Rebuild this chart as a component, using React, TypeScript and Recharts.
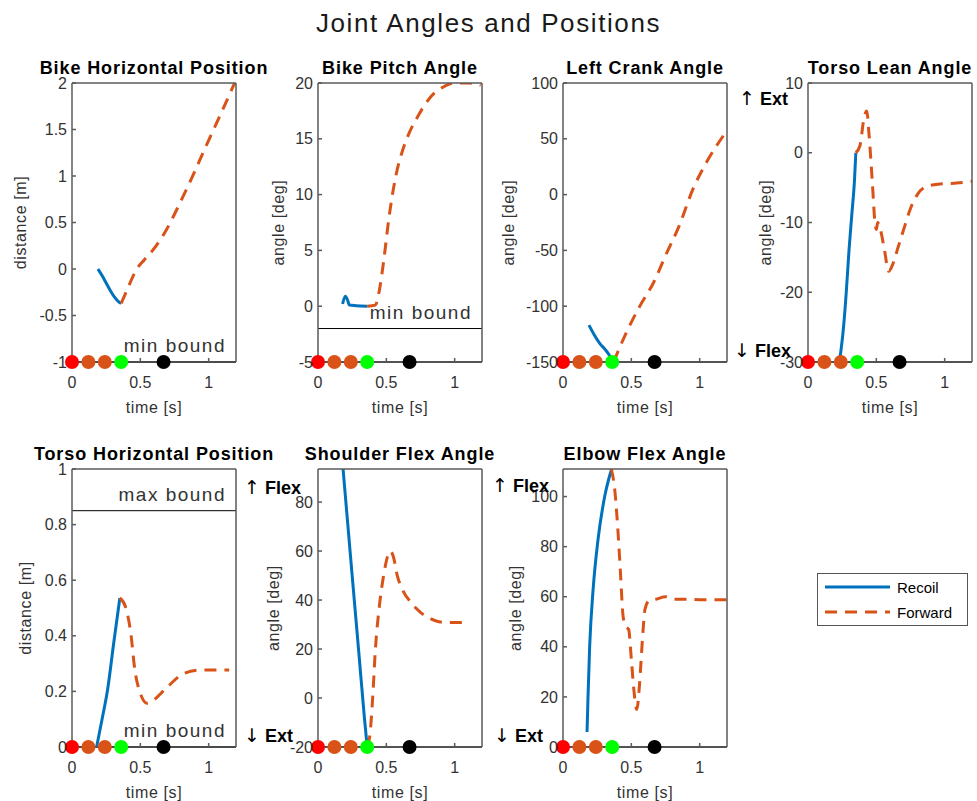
import { ComposedChart, Line, Scatter, XAxis, YAxis, ReferenceLine } from 'recharts';

// colours used by MATLAB's default order
const BLUE = '#0072BD';
const ORANGE = '#D95319';
const INK = '#333333';
const FONT = '"Liberation Sans", Arial, Helvetica, sans-serif';

const TIME_DOMAIN: [number, number] = [0, 1.2];
const TIME_TICKS = [0, 0.5, 1];

// phase markers along the bottom of every panel
const EVENT_TIMES = [0, 0.12, 0.24, 0.36, 0.67];
const EVENT_COLORS = ['#FF0000', ORANGE, ORANGE, '#00FF00', '#000000'];

const SERIES_NAMES = ['Recoil', 'Forward'];

// [time s, value]
const bikeXRecoil: [number, number][] = [
  [0.19, 0.0], [0.22, -0.07], [0.25, -0.15], [0.28, -0.23], [0.31, -0.3], [0.34, -0.35], [0.36, -0.37],
];
const bikeXForward: [number, number][] = [
  [0.36, -0.37], [0.41, -0.2], [0.47, -0.01], [0.53, 0.1], [0.59, 0.2], [0.69, 0.42], [0.79, 0.71],
  [0.88, 0.99], [0.98, 1.32], [1.08, 1.64], [1.19, 2.0],
];

const pitchRecoil: [number, number][] = [
  [0.18, 0.2], [0.2, 0.9], [0.215, 0.6], [0.23, 0.1], [0.28, 0.05], [0.36, 0],
];
const pitchForward: [number, number][] = [
  [0.36, 0], [0.42, 0.1], [0.45, 1.5], [0.48, 4], [0.52, 8], [0.57, 11.7], [0.62, 14], [0.67, 15.6],
  [0.73, 17], [0.79, 18.2], [0.85, 19.1], [0.91, 19.6], [1.0, 20], [1.1, 20], [1.19, 19.8],
];

const crankRecoil: [number, number][] = [
  [0.19, -117], [0.23, -126], [0.27, -133.5], [0.31, -139], [0.34, -144], [0.37, -150],
];
const crankForward: [number, number][] = [
  [0.37, -150], [0.46, -124.5], [0.56, -100.4], [0.66, -79.4], [0.76, -52], [0.85, -28],
  [0.95, 4.7], [1.05, 29], [1.18, 54],
];

const leanRecoil: [number, number][] = [
  [0.23, -30], [0.26, -25], [0.28, -20], [0.3, -14], [0.32, -9], [0.34, -4], [0.35, 0],
];
const leanForward: [number, number][] = [
  [0.35, 0], [0.38, 1], [0.41, 5], [0.43, 6], [0.445, 3], [0.47, -4], [0.49, -10], [0.5, -11],
  [0.51, -10], [0.53, -11], [0.56, -14], [0.59, -17], [0.62, -16], [0.66, -13.5], [0.7, -11],
  [0.75, -8], [0.8, -6], [0.85, -5], [0.95, -4.5], [1.05, -4.4], [1.2, -4.1],
];

const torsoXRecoil: [number, number][] = [
  [0.18, 0], [0.22, 0.1], [0.26, 0.205], [0.305, 0.373], [0.35, 0.536],
];
const torsoXForward: [number, number][] = [
  [0.35, 0.536], [0.39, 0.506], [0.43, 0.41], [0.46, 0.277], [0.5, 0.193], [0.55, 0.157],
  [0.6, 0.17], [0.7, 0.217], [0.82, 0.265], [0.94, 0.277], [1.15, 0.277],
];

const shoulderRecoil: [number, number][] = [
  [0.175, 99], [0.2, 82.6], [0.25, 50], [0.3, 17.7], [0.34, -8.3], [0.36, -20],
];
const shoulderForward: [number, number][] = [
  [0.36, -20], [0.38, -15], [0.4, 0], [0.42, 20], [0.45, 38], [0.48, 50], [0.51, 58], [0.53, 60],
  [0.55, 58], [0.58, 50], [0.62, 44], [0.68, 39], [0.75, 35], [0.82, 32.5], [0.9, 31], [1.0, 30.8], [1.1, 31],
];

const elbowRecoil: [number, number][] = [
  [0.176, 6], [0.183, 20], [0.195, 40], [0.22, 62.7], [0.256, 82.7], [0.305, 100], [0.354, 110.7],
];
const elbowForward: [number, number][] = [
  [0.354, 111], [0.38, 102], [0.4, 88], [0.42, 70], [0.44, 52], [0.46, 48], [0.48, 47], [0.5, 35],
  [0.52, 22], [0.54, 15], [0.56, 25], [0.58, 42], [0.6, 55], [0.63, 58.5], [0.68, 59], [0.75, 60],
  [0.8, 59], [0.9, 59], [1.0, 58.8], [1.2, 58.8],
];

type Bound = { y: number; label: string };
type PanelCfg = {
  left: number;
  top: number;
  h: number;
  title: string;
  yLabel: string;
  yGap: number;
  yDomain: [number, number];
  yTicks: number[];
  recoil: [number, number][];
  forward: [number, number][];
  bounds: Bound[];
};

const BOX_W = 164;
const PAD_L = 70;
const PAD_R = 10;
const PAD_T = 30;
const PAD_B = 55;
const DASH = '12 8';

const PANELS: PanelCfg[] = [
  {
    left: 72, top: 83, h: 279, title: 'Bike Horizontal Position', yLabel: 'distance [m]', yGap: 52,
    yDomain: [-1, 2], yTicks: [-1, -0.5, 0, 0.5, 1, 1.5, 2],
    recoil: bikeXRecoil, forward: bikeXForward, bounds: [{ y: -1, label: 'min bound' }],
  },
  {
    left: 318, top: 83, h: 279, title: 'Bike Pitch Angle', yLabel: 'angle [deg]', yGap: 40,
    yDomain: [-5, 20], yTicks: [-5, 0, 5, 10, 15, 20],
    recoil: pitchRecoil, forward: pitchForward, bounds: [{ y: -2, label: 'min bound' }],
  },
  {
    left: 563, top: 83, h: 279, title: 'Left Crank Angle', yLabel: 'angle [deg]', yGap: 55,
    yDomain: [-150, 100], yTicks: [-150, -100, -50, 0, 50, 100],
    recoil: crankRecoil, forward: crankForward, bounds: [],
  },
  {
    left: 808, top: 83, h: 279, title: 'Torso Lean Angle', yLabel: 'angle [deg]', yGap: 43,
    yDomain: [-30, 10], yTicks: [-30, -20, -10, 0, 10],
    recoil: leanRecoil, forward: leanForward, bounds: [],
  },
  {
    left: 72, top: 469, h: 278, title: 'Torso Horizontal Position', yLabel: 'distance [m]', yGap: 47,
    yDomain: [0, 1], yTicks: [0, 0.2, 0.4, 0.6, 0.8, 1],
    recoil: torsoXRecoil, forward: torsoXForward,
    bounds: [{ y: 0.85, label: 'max bound' }, { y: 0, label: 'min bound' }],
  },
  {
    left: 318, top: 469, h: 278, title: 'Shoulder Flex Angle', yLabel: 'angle [deg]', yGap: 45,
    yDomain: [-20, 93.5], yTicks: [-20, 0, 20, 40, 60, 80],
    recoil: shoulderRecoil, forward: shoulderForward, bounds: [],
  },
  {
    left: 563, top: 469, h: 278, title: 'Elbow Flex Angle', yLabel: 'angle [deg]', yGap: 48,
    yDomain: [0, 111], yTicks: [0, 20, 40, 60, 80, 100],
    recoil: elbowRecoil, forward: elbowForward, bounds: [],
  },
];

const NOTES = [
  { arrow: '↑', text: 'Ext', left: 739, top: 89 },
  { arrow: '↓', text: 'Flex', left: 734, top: 341 },
  { arrow: '↑', text: 'Flex', left: 244, top: 478 },
  { arrow: '↓', text: 'Ext', left: 244, top: 726 },
  { arrow: '↑', text: 'Flex', left: 492, top: 476 },
  { arrow: '↓', text: 'Ext', left: 494, top: 726 },
];

const toRows = (pts: [number, number][]) => pts.map(([t, v]) => ({ t, v }));

function YLabel(props: any) {
  const { viewBox, text, gap } = props;
  const x = viewBox.x + viewBox.width - gap;
  const y = viewBox.y + viewBox.height / 2;
  return (
    <text x={x} y={y} transform={`rotate(-90 ${x} ${y})`} textAnchor="middle" dominantBaseline="central"
      fill={INK} fontSize={16} style={{ letterSpacing: 0.6 }}>
      {text}
    </text>
  );
}

function XLabel(props: any) {
  const { viewBox } = props;
  return (
    <text x={viewBox.x + viewBox.width / 2} y={viewBox.y + 45} textAnchor="middle" dominantBaseline="central"
      fill={INK} fontSize={16} style={{ letterSpacing: 0.6 }}>
      time [s]
    </text>
  );
}

function EventDot(props: any) {
  return <circle cx={props.cx} cy={props.cy} r={7} fill={props.payload.c} />;
}

function Panel({ cfg }: { cfg: PanelCfg }) {
  const width = PAD_L + BOX_W + PAD_R;
  const height = PAD_T + cfg.h + PAD_B;
  const events = EVENT_TIMES.map((t, i) => ({ t, y: cfg.yDomain[0], c: EVENT_COLORS[i] }));
  const axisStroke = '#5a5a5a';
  return (
    <div style={{ position: 'absolute', left: cfg.left - PAD_L, top: cfg.top - PAD_T, width, height }}>
      <ComposedChart width={width} height={height} margin={{ top: PAD_T - 1, right: PAD_R - 1, bottom: 0, left: 0 }}>
        <XAxis xAxisId="b" dataKey="t" type="number" domain={TIME_DOMAIN} ticks={TIME_TICKS} height={PAD_B}
          stroke={axisStroke} strokeWidth={1.5} tickSize={-4} tickMargin={19}
          tick={{ fill: INK, fontSize: 16 }} label={<XLabel />} />
        <XAxis xAxisId="top" orientation="top" dataKey="t" type="number" domain={TIME_DOMAIN} ticks={TIME_TICKS}
          height={1} stroke={axisStroke} strokeWidth={1.5} tickSize={-4} tick={false} />
        <YAxis yAxisId="l" type="number" domain={cfg.yDomain} ticks={cfg.yTicks} allowDataOverflow width={PAD_L}
          stroke={axisStroke} strokeWidth={1.5} tickSize={-4} tickMargin={9}
          tick={{ fill: INK, fontSize: 16 }} label={<YLabel text={cfg.yLabel} gap={cfg.yGap} />} />
        <YAxis yAxisId="r" orientation="right" type="number" domain={cfg.yDomain} ticks={cfg.yTicks} width={1}
          stroke={axisStroke} strokeWidth={1.5} tickSize={-4} tick={false} />
        <YAxis yAxisId="m" type="number" domain={cfg.yDomain} hide />
        <ReferenceLine xAxisId="b" yAxisId="l" y={cfg.yDomain[0]} stroke="#000" strokeWidth={1.5} />
        {cfg.bounds.map((b) => (
          <ReferenceLine key={b.label} xAxisId="b" yAxisId="l" y={b.y} stroke="#000" strokeWidth={1}
            label={{ value: b.label, position: 'insideBottomRight', offset: 10, fill: INK, fontSize: 19, style: { letterSpacing: 1.5 } }} />
        ))}
        <Line xAxisId="b" yAxisId="l" data={toRows(cfg.recoil)} dataKey="v" name={SERIES_NAMES[0]} type="monotone"
          stroke={BLUE} strokeWidth={3} dot={false} activeDot={false} isAnimationActive={false} />
        <Line xAxisId="b" yAxisId="l" data={toRows(cfg.forward)} dataKey="v" name={SERIES_NAMES[1]} type="monotone"
          stroke={ORANGE} strokeWidth={3} strokeDasharray={DASH} dot={false} activeDot={false} isAnimationActive={false} />
        <Scatter xAxisId="b" yAxisId="m" data={events} dataKey="y" shape={<EventDot />} isAnimationActive={false} />
      </ComposedChart>
      <div style={{
        position: 'absolute', left: PAD_L + BOX_W / 2, top: PAD_T - 24, transform: 'translateX(-50%)',
        whiteSpace: 'nowrap', fontSize: 18, lineHeight: '18px', fontWeight: 700, color: '#000', letterSpacing: 0.9,
      }}>
        {cfg.title}
      </div>
    </div>
  );
}

function LegendBox() {
  return (
    <svg style={{ position: 'absolute', left: 817, top: 573 }} width={151} height={53}>
      <rect x={0.5} y={0.5} width={150} height={52} fill="#fff" stroke="#555" strokeWidth={1} />
      <line x1={8} x2={73} y1={14} y2={14} stroke={BLUE} strokeWidth={3} />
      <line x1={8} x2={73} y1={39} y2={39} stroke={ORANGE} strokeWidth={3} strokeDasharray={DASH} />
      <text x={80} y={14} dominantBaseline="central" fontSize={15} fill="#000">{SERIES_NAMES[0]}</text>
      <text x={80} y={39} dominantBaseline="central" fontSize={15} fill="#000">{SERIES_NAMES[1]}</text>
    </svg>
  );
}

export default function App() {
  return (
    <div style={{ position: 'absolute', left: 0, top: 0, width: 977, height: 801, background: '#fff', fontFamily: FONT, overflow: 'hidden' }}>
      <div style={{
        position: 'absolute', left: 0, width: 977, top: 10, textAlign: 'center', fontSize: 26, lineHeight: '26px',
        color: '#1a1a1a', letterSpacing: 1.6,
      }}>
        Joint Angles and Positions
      </div>
      {PANELS.map((p) => <Panel key={p.title} cfg={p} />)}
      {NOTES.map((n, i) => (
        <div key={i} style={{
          position: 'absolute', left: n.left, top: n.top, fontSize: 18, lineHeight: '18px', fontWeight: 700,
          color: '#000', whiteSpace: 'nowrap',
        }}>
          <span style={{ fontFamily: '"DejaVu Sans", sans-serif', fontWeight: 400, fontSize: 19 }}>{n.arrow}</span>
          {' '}{n.text}
        </div>
      ))}
      <LegendBox />
    </div>
  );
}
